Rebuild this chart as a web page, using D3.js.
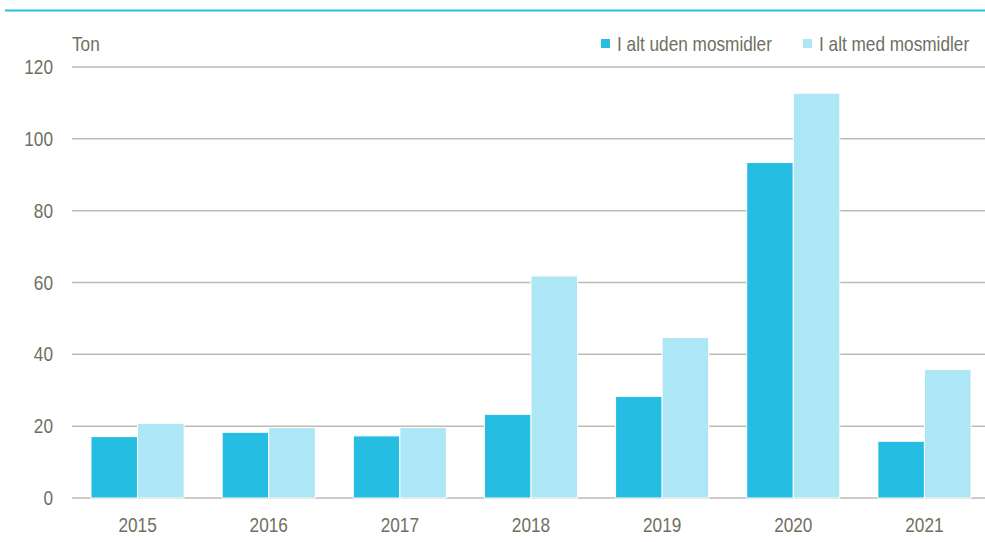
<!DOCTYPE html>
<html>
<head>
<meta charset="utf-8">
<script src="https://cdn.jsdelivr.net/npm/d3@7"></script>
<style>
  body { margin: 0; background: #fff; }
  text { font-family: "Liberation Sans", Arial, sans-serif; fill: #6f6f61; font-size: 21px; }
</style>
</head>
<body>
<svg id="chart" width="985" height="542"></svg>
<script>
// data
var years = ['2015', '2016', '2017', '2018', '2019', '2020', '2021'];
var udenMosmidler = [17.1, 18.3, 17.3, 23.3, 28.3, 93.4, 15.8];
var medMosmidler = [20.8, 19.6, 19.6, 61.8, 44.7, 112.7, 35.8];
var seriesNames = ['I alt uden mosmidler', 'I alt med mosmidler'];
var yTicks = [0, 20, 40, 60, 80, 100, 120];

var colors = ['#25bde2', '#ade6f4'];
var svg = d3.select('#chart');
var margin = { top: 67, right: -5, bottom: 44, left: 72 };
var width = 985, height = 542;
// the original uses a narrow face, so squeeze the text sideways
var squeeze = 0.82;
function place(px, py) {
  return 'translate(' + px + ',' + py + ') scale(' + squeeze + ',1)';
}

// blue rule across the top
svg.append('line')
  .attr('x1', 5).attr('x2', width)
  .attr('y1', 10.5).attr('y2', 10.5)
  .attr('stroke', '#25bde2')
  .attr('stroke-width', 2);

var x = d3.scaleBand()
  .domain(years)
  .range([margin.left, width - margin.right])
  .paddingInner(0.29)
  .paddingOuter(0.145);

var xSub = d3.scaleBand()
  .domain([0, 1])
  .range([0, x.bandwidth()]);

var y = d3.scaleLinear()
  .domain([0, 120])
  .range([height - margin.bottom, margin.top]);

// gridlines
svg.append('g')
  .selectAll('line')
  .data(yTicks)
  .enter().append('line')
  .attr('x1', margin.left).attr('x2', width)
  .attr('y1', d => y(d)).attr('y2', d => y(d))
  .attr('stroke', '#bdbbb1')
  .attr('stroke-width', 1.5);

// y tick labels
svg.append('g')
  .selectAll('text')
  .data(yTicks)
  .enter().append('text')
  .attr('transform', d => place(53, y(d) + 7))
  .attr('text-anchor', 'end')
  .text(d => d);

// bars
var groups = svg.append('g')
  .selectAll('g')
  .data(years)
  .enter().append('g')
  .attr('transform', d => 'translate(' + x(d) + ',0)');

groups.selectAll('rect')
  .data((d, i) => [udenMosmidler[i], medMosmidler[i]])
  .enter().append('rect')
  .attr('x', (d, j) => xSub(j))
  .attr('width', xSub.bandwidth())
  .attr('y', d => y(d))
  .attr('height', d => y(0) - y(d))
  .attr('fill', (d, j) => colors[j])
  .attr('stroke', '#fff')
  .attr('stroke-width', 1);

// x labels
svg.append('g')
  .selectAll('text')
  .data(years)
  .enter().append('text')
  .attr('transform', d => place(x(d) + x.bandwidth() / 2, 532))
  .attr('text-anchor', 'middle')
  .text(d => d);

// unit
svg.append('text')
  .attr('transform', place(72, 51))
  .text('Ton');

// legend
var legendX = [601, 803];
seriesNames.forEach(function(name, i) {
  svg.append('rect')
    .attr('x', legendX[i]).attr('y', 39)
    .attr('width', 9).attr('height', 9)
    .attr('fill', colors[i]);
  svg.append('text')
    .attr('transform', place(legendX[i] + 16, 51))
    .text(name);
});
</script>
</body>
</html>
